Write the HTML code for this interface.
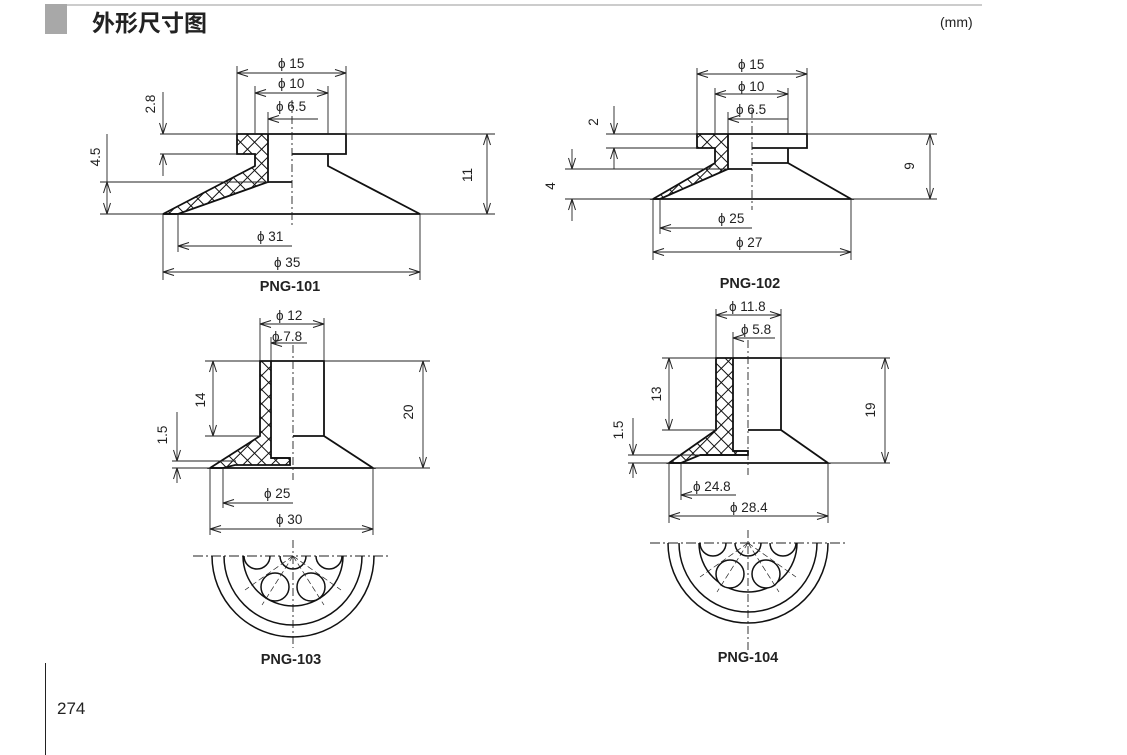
<!DOCTYPE html>
<html><head><meta charset="utf-8"><style>
html,body{margin:0;padding:0;background:#fff;}
svg{display:block;}
text{font-family:"Liberation Sans",Arial,sans-serif;fill:#222;}
</style></head><body>
<svg width="1127" height="755" viewBox="0 0 1127 755" xmlns="http://www.w3.org/2000/svg">
<defs>
<pattern id="h" width="10" height="10" patternUnits="userSpaceOnUse" patternTransform="rotate(45)">
<rect width="10" height="10" fill="#fff"/>
<line x1="0" y1="0" x2="0" y2="10" stroke="#111" stroke-width="2"/>
<line x1="0" y1="0" x2="10" y2="0" stroke="#111" stroke-width="2"/>
</pattern>
<marker id="a" viewBox="0 0 12 8" refX="11.5" refY="4" markerWidth="12" markerHeight="8" markerUnits="userSpaceOnUse" orient="auto-start-reverse">
<path d="M0.5,0.5 L11.5,4 L0.5,7.5" fill="none" stroke="#222" stroke-width="1"/>
</marker>
</defs>
<!-- header -->
<rect x="45" y="4" width="22" height="30" fill="#a8a8a8"/>
<line x1="67" y1="5" x2="982" y2="5" stroke="#bbb" stroke-width="1.5"/>
<text x="92" y="31" font-size="23" font-weight="bold" style='font-family:"Liberation Sans","Noto Sans CJK SC",sans-serif'>外形尺寸图</text>
<text x="940" y="27" font-size="14">(mm)</text>
<line x1="45.5" y1="663" x2="45.5" y2="755" stroke="#222" stroke-width="1"/>
<text x="57" y="714" font-size="17">274</text>

<g stroke="#222" fill="none" stroke-width="0.9">
<!-- ===== PNG-101 ===== -->
<path d="M163,214 L255,166 L255,154 L237,154 L237,134 L268,134 L268,182 L178,214 Z" fill="url(#h)" stroke="#111" stroke-width="1.8"/>
<path d="M268,134 L346,134 L346,154 L328,154 L328,166 L420,214 L163,214 M292,154 L328,154 M268,182 L292,182" stroke="#111" stroke-width="1.8"/>
<line x1="292" y1="100" x2="292" y2="225" stroke-dasharray="8,3,2,3"/>
<path d="M237,134 V66 M346,134 V66 M255,134 V86 M328,134 V86 M268,134 V112"/>
<line x1="237" y1="73" x2="346" y2="73" marker-start="url(#a)" marker-end="url(#a)"/>
<line x1="255" y1="93" x2="328" y2="93" marker-start="url(#a)" marker-end="url(#a)"/>
<line x1="268" y1="119" x2="318" y2="119" marker-start="url(#a)"/>
<path d="M160,134 H237 M160,154 H237 M100,182 H268 M100,214 H163 M346,134 H495 M420,214 H495"/>
<line x1="163" y1="92" x2="163" y2="134" marker-end="url(#a)"/>
<line x1="163" y1="154" x2="163" y2="176" marker-start="url(#a)"/>
<line x1="107" y1="134" x2="107" y2="182"/>
<line x1="107" y1="182" x2="107" y2="214" marker-start="url(#a)" marker-end="url(#a)"/>
<line x1="487" y1="134" x2="487" y2="214" marker-start="url(#a)" marker-end="url(#a)"/>
<path d="M163,214 V280 M420,214 V280 M178,214 V252"/>
<line x1="178" y1="246" x2="292" y2="246" marker-start="url(#a)"/>
<line x1="163" y1="272" x2="420" y2="272" marker-start="url(#a)" marker-end="url(#a)"/>

<!-- ===== PNG-102 ===== -->
<path d="M653,199 L715,163 L715,148 L697,148 L697,134 L728,134 L728,169 L660,199 Z" fill="url(#h)" stroke="#111" stroke-width="1.8"/>
<path d="M728,134 L807,134 L807,148 L788,148 L788,163 L851,199 L653,199 M752,148 L788,148 M752,163 L788,163 M728,169 L752,169" stroke="#111" stroke-width="1.8"/>
<line x1="752" y1="110" x2="752" y2="210" stroke-dasharray="8,3,2,3"/>
<path d="M697,134 V68 M807,134 V68 M715,134 V88 M788,134 V88 M728,134 V112"/>
<line x1="697" y1="74" x2="807" y2="74" marker-start="url(#a)" marker-end="url(#a)"/>
<line x1="715" y1="94" x2="788" y2="94" marker-start="url(#a)" marker-end="url(#a)"/>
<line x1="728" y1="119" x2="788" y2="119" marker-start="url(#a)"/>
<path d="M606,134 H697 M606,148 H697 M565,169 H728 M565,199 H653 M807,134 H937 M851,199 H937"/>
<line x1="614" y1="106" x2="614" y2="134" marker-end="url(#a)"/>
<line x1="614" y1="148" x2="614" y2="169" marker-start="url(#a)"/>
<line x1="572" y1="149" x2="572" y2="169" marker-end="url(#a)"/>
<line x1="572" y1="199" x2="572" y2="221" marker-start="url(#a)"/>
<line x1="930" y1="134" x2="930" y2="199" marker-start="url(#a)" marker-end="url(#a)"/>
<path d="M653,199 V260 M851,199 V260 M660,199 V234"/>
<line x1="660" y1="228" x2="752" y2="228" marker-start="url(#a)"/>
<line x1="653" y1="252" x2="851" y2="252" marker-start="url(#a)" marker-end="url(#a)"/>

<!-- ===== PNG-103 ===== -->
<path d="M210,468 L260,436 L260,361 L271,361 L271,458 L290,458 L290,465 L235,465 L223,468 Z" fill="url(#h)" stroke="#111" stroke-width="1.8"/>
<path d="M271,361 L324,361 L324,436 L373,468 L210,468 M293,436 L324,436 M271,458 L290,458" stroke="#111" stroke-width="1.8"/>
<line x1="293" y1="345" x2="293" y2="480" stroke-dasharray="8,3,2,3"/>
<path d="M260,361 V318 M324,361 V318 M271,361 V337"/>
<line x1="260" y1="324" x2="324" y2="324" marker-start="url(#a)" marker-end="url(#a)"/>
<line x1="271" y1="343" x2="307" y2="343" marker-start="url(#a)"/>
<path d="M205,361 H260 M205,436 H260 M172,461 H236 M172,468 H210 M324,361 H430 M373,468 H430"/>
<line x1="213" y1="361" x2="213" y2="436" marker-start="url(#a)" marker-end="url(#a)"/>
<line x1="177" y1="412" x2="177" y2="461" marker-end="url(#a)"/>
<line x1="177" y1="468" x2="177" y2="483" marker-start="url(#a)"/>
<line x1="423" y1="361" x2="423" y2="468" marker-start="url(#a)" marker-end="url(#a)"/>
<path d="M210,468 V535 M373,468 V535 M223,468 V508"/>
<line x1="223" y1="503" x2="293" y2="503" marker-start="url(#a)"/>
<line x1="210" y1="529" x2="373" y2="529" marker-start="url(#a)" marker-end="url(#a)"/>
<!-- bottom view 103 -->
<line x1="193" y1="556" x2="390" y2="556" stroke-dasharray="10,3,2,3"/>
<line x1="293" y1="540" x2="293" y2="648" stroke-dasharray="8,3,2,3"/>
<g stroke="#111" stroke-width="1.5">
<path d="M212,556 A81,81 0 0 0 374,556"/>
<path d="M224,556 A69,69 0 0 0 362,556"/>
<path d="M243,556 A50,50 0 0 0 343,556"/>
<path d="M244,556 A13,13 0 0 0 270,556"/>
<path d="M280,556 A13,13 0 0 0 306,556"/>
<path d="M316,556 A13,13 0 0 0 342,556"/>
<circle cx="275" cy="587" r="14" fill="#fff"/>
<circle cx="311" cy="587" r="14" fill="#fff"/>
</g>
<path d="M293,556 L262,605 M293,556 L324,605 M293,556 L245,590 M293,556 L341,590" stroke-dasharray="6,3" stroke-width="0.7"/>

<!-- ===== PNG-104 ===== -->
<path d="M669,463 L716,430 L716,358 L733,358 L733,451 L748,451 L748,455 L700,455 L681,463 Z" fill="url(#h)" stroke="#111" stroke-width="1.8"/>
<path d="M733,358 L781,358 L781,430 L828,463 L669,463 M748,430 L781,430 M733,451 L748,451 M700,455 L748,455" stroke="#111" stroke-width="1.8"/>
<line x1="748" y1="340" x2="748" y2="475" stroke-dasharray="8,3,2,3"/>
<path d="M716,358 V309 M781,358 V309 M733,358 V332"/>
<line x1="716" y1="315" x2="781" y2="315" marker-start="url(#a)" marker-end="url(#a)"/>
<line x1="733" y1="338" x2="775" y2="338" marker-start="url(#a)"/>
<path d="M662,358 H716 M662,430 H716 M628,455 H700 M628,463 H669 M781,358 H890 M828,463 H890"/>
<line x1="669" y1="358" x2="669" y2="430" marker-start="url(#a)" marker-end="url(#a)"/>
<line x1="633" y1="418" x2="633" y2="455" marker-end="url(#a)"/>
<line x1="633" y1="463" x2="633" y2="478" marker-start="url(#a)"/>
<line x1="885" y1="358" x2="885" y2="463" marker-start="url(#a)" marker-end="url(#a)"/>
<path d="M669,463 V523 M828,463 V523 M681,463 V500"/>
<line x1="681" y1="495" x2="736" y2="495" marker-start="url(#a)"/>
<line x1="669" y1="516" x2="828" y2="516" marker-start="url(#a)" marker-end="url(#a)"/>
<!-- bottom view 104 -->
<line x1="650" y1="543" x2="845" y2="543" stroke-dasharray="10,3,2,3"/>
<line x1="748" y1="530" x2="748" y2="650" stroke-dasharray="8,3,2,3"/>
<g stroke="#111" stroke-width="1.5">
<path d="M668,543 A80,80 0 0 0 828,543"/>
<path d="M679,543 A69,69 0 0 0 817,543"/>
<path d="M699,543 A49,49 0 0 0 797,543"/>
<path d="M700,543 A13,13 0 0 0 726,543"/>
<path d="M735,543 A13,13 0 0 0 761,543"/>
<path d="M770,543 A13,13 0 0 0 796,543"/>
<circle cx="730" cy="574" r="14" fill="#fff"/>
<circle cx="766" cy="574" r="14" fill="#fff"/>
</g>
<path d="M748,543 L717,592 M748,543 L779,592 M748,543 L700,577 M748,543 L796,577" stroke-dasharray="6,3" stroke-width="0.7"/>
</g>

<!-- labels -->
<g font-size="13.5">
<text x="278" y="68">ϕ 15</text>
<text x="278" y="88">ϕ 10</text>
<text x="276" y="111">ϕ 6.5</text>
<text x="257" y="241">ϕ 31</text>
<text x="274" y="267">ϕ 35</text>
<text x="738" y="69">ϕ 15</text>
<text x="738" y="91">ϕ 10</text>
<text x="736" y="114">ϕ 6.5</text>
<text x="718" y="223">ϕ 25</text>
<text x="736" y="247">ϕ 27</text>
<text x="276" y="320">ϕ 12</text>
<text x="272" y="341">ϕ 7.8</text>
<text x="264" y="498">ϕ 25</text>
<text x="276" y="524">ϕ 30</text>
<text x="729" y="311">ϕ 11.8</text>
<text x="741" y="334">ϕ 5.8</text>
<text x="693" y="491">ϕ 24.8</text>
<text x="730" y="512">ϕ 28.4</text>
<text transform="translate(155,104) rotate(-90)" text-anchor="middle">2.8</text>
<text transform="translate(100,157) rotate(-90)" text-anchor="middle">4.5</text>
<text transform="translate(472,175) rotate(-90)" text-anchor="middle">11</text>
<text transform="translate(598,122) rotate(-90)" text-anchor="middle">2</text>
<text transform="translate(555,186) rotate(-90)" text-anchor="middle">4</text>
<text transform="translate(914,166) rotate(-90)" text-anchor="middle">9</text>
<text transform="translate(205,400) rotate(-90)" text-anchor="middle">14</text>
<text transform="translate(167,435) rotate(-90)" text-anchor="middle">1.5</text>
<text transform="translate(413,412) rotate(-90)" text-anchor="middle">20</text>
<text transform="translate(661,394) rotate(-90)" text-anchor="middle">13</text>
<text transform="translate(623,430) rotate(-90)" text-anchor="middle">1.5</text>
<text transform="translate(875,410) rotate(-90)" text-anchor="middle">19</text>
</g>
<g font-size="14.5" font-weight="bold" text-anchor="middle">
<text x="290" y="291">PNG-101</text>
<text x="750" y="288">PNG-102</text>
<text x="291" y="664">PNG-103</text>
<text x="748" y="662">PNG-104</text>
</g>
</svg>
</body></html>
